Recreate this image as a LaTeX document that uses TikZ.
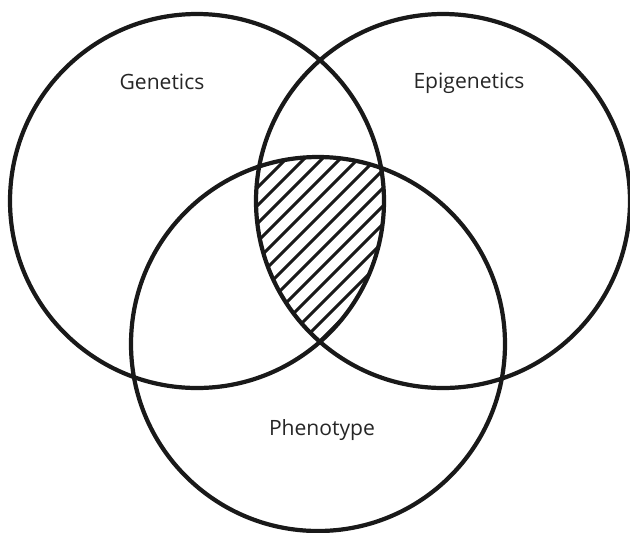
\documentclass[tikz,border=0pt]{standalone}
\usepackage{fontspec}
\setmainfont{Open Sans}
\usetikzlibrary{positioning}

\begin{document}
\begin{tikzpicture}[
    x=0.02cm, y=-0.02cm,
    font=\fontsize{12}{14}\selectfont,
    setcircle/.style={draw=black!90, line width=2.4pt},
    hatchline/.style={draw=black!90, line width=1.7pt},
    setlabel/.style={inner sep=0pt, text=black!85}
  ]
    \useasboundingbox (0,0) rectangle (630,532);

    % Centres of the sets
    \coordinate (gen) at (197,201);
    \coordinate (epi) at (443,201);
    \coordinate (phen) at (318,344);

    % Overlap of all three sets
    \begin{scope}
      \clip (gen) circle (187);
      \clip (epi) circle (187);
      \clip (phen) circle (187);
      \foreach \k in {-3,...,13}
        \draw[hatchline] (463+18*\k-400,400) -- (463+18*\k-100,100);
    \end{scope}

    % Sets
    \draw[setcircle] (gen) circle (187);
    \draw[setcircle] (epi) circle (187);
    \draw[setcircle] (phen) circle (187);

    % Labels
    \node[setlabel] (genlabel) at (162,82) {Genetics};
    \node[setlabel] (epilabel) at (469,83) {Epigenetics};
    \node[setlabel] (phenlabel) at (322,430) {Phenotype};
\end{tikzpicture}
\end{document}
